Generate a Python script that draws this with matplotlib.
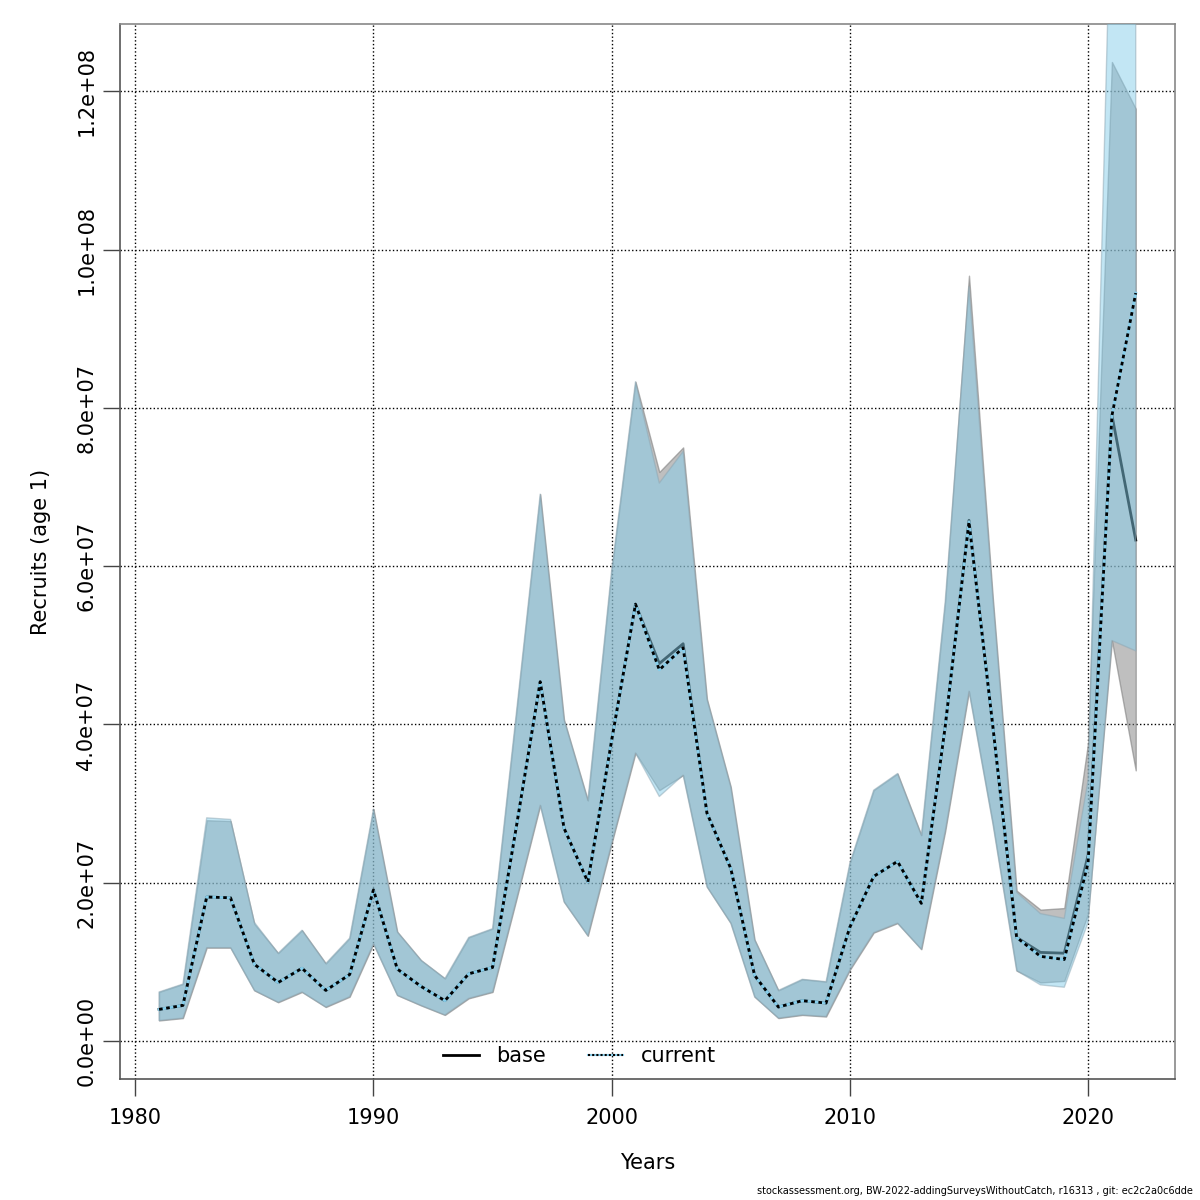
import numpy as np
import matplotlib
matplotlib.use("Agg")
import matplotlib.pyplot as plt
from matplotlib.lines import Line2D
from matplotlib.legend_handler import HandlerTuple
from matplotlib.ticker import FuncFormatter

# values, in units of 1e7 recruits
years = np.arange(1981, 2023)

cur_mean = [0.40, 0.45, 1.82, 1.81, 0.97, 0.74, 0.92, 0.64, 0.84, 1.91,
            0.91, 0.69, 0.51, 0.85, 0.93, 2.71, 4.54, 2.69, 2.01, 3.80,
            5.52, 4.69, 4.97, 2.88, 2.18, 0.83, 0.43, 0.51, 0.48, 1.44,
            2.08, 2.27, 1.74, 3.97, 6.56, 3.98, 1.31, 1.07, 1.03, 2.25,
            7.90, 9.45]
cur_upper = [0.62, 0.72, 2.82, 2.80, 1.50, 1.11, 1.40, 0.98, 1.30, 2.93,
             1.38, 1.02, 0.79, 1.31, 1.42, 4.15, 6.91, 4.06, 3.04, 5.95,
             8.33, 7.05, 7.45, 4.32, 3.21, 1.28, 0.64, 0.78, 0.75, 2.25,
             3.17, 3.38, 2.60, 5.55, 9.53, 5.60, 1.88, 1.61, 1.55, 3.30,
             15.0, 16.0]
cur_lower = [0.26, 0.29, 1.18, 1.18, 0.64, 0.49, 0.62, 0.43, 0.56, 1.23,
             0.58, 0.45, 0.33, 0.54, 0.62, 1.79, 2.98, 1.76, 1.33, 2.50,
             3.64, 3.09, 3.36, 1.95, 1.49, 0.56, 0.29, 0.33, 0.31, 0.90,
             1.37, 1.49, 1.16, 2.65, 4.42, 2.75, 0.89, 0.71, 0.68, 1.50,
             5.06, 4.93]

base_mean = [0.40, 0.45, 1.82, 1.81, 0.97, 0.74, 0.92, 0.64, 0.84, 1.91,
             0.91, 0.69, 0.51, 0.85, 0.93, 2.71, 4.54, 2.69, 2.01, 3.80,
             5.52, 4.77, 5.02, 2.88, 2.18, 0.83, 0.43, 0.51, 0.48, 1.44,
             2.08, 2.27, 1.74, 3.97, 6.58, 3.98, 1.31, 1.12, 1.11, 2.35,
             7.91, 6.33]
base_upper = [0.62, 0.72, 2.79, 2.78, 1.48, 1.11, 1.40, 0.98, 1.30, 2.93,
              1.38, 1.02, 0.79, 1.31, 1.42, 4.15, 6.91, 4.06, 3.04, 5.95,
              8.33, 7.19, 7.50, 4.32, 3.21, 1.28, 0.64, 0.78, 0.75, 2.25,
              3.17, 3.38, 2.60, 5.55, 9.67, 5.60, 1.90, 1.66, 1.68, 3.77,
              12.37, 11.78]
base_lower = [0.26, 0.29, 1.18, 1.18, 0.64, 0.49, 0.62, 0.43, 0.56, 1.23,
              0.58, 0.45, 0.33, 0.54, 0.62, 1.79, 2.98, 1.76, 1.33, 2.50,
              3.64, 3.17, 3.36, 1.95, 1.49, 0.56, 0.29, 0.33, 0.31, 0.90,
              1.37, 1.49, 1.16, 2.65, 4.42, 2.75, 0.89, 0.74, 0.76, 1.61,
              5.06, 3.42]

scale = 1e7
cur_mean, cur_upper, cur_lower = [np.array(a) * scale for a in (cur_mean, cur_upper, cur_lower)]
base_mean, base_upper, base_lower = [np.array(a) * scale for a in (base_mean, base_upper, base_lower)]

skyblue = (135/255, 206/255, 235/255)
dots = (0, (1.3, 1.3))

fig = plt.figure(figsize=(12, 12), dpi=100)
ax = fig.add_axes([0.1, 0.1008, 0.879, 0.8792])

# grid first, so it sits below everything
ax.set_axisbelow(True)
ax.grid(True, linestyle=":", color="black", linewidth=1)

ax.fill_between(years, base_lower, base_upper, facecolor=(0.5, 0.5, 0.5, 0.5),
                edgecolor=(0.5, 0.5, 0.5, 0.6), linewidth=1, zorder=2)
ax.plot(years, base_mean, color="black", linewidth=2, zorder=3)
ax.fill_between(years, cur_lower, cur_upper, facecolor=skyblue + (0.5,),
                edgecolor=(0.55, 0.65, 0.7, 0.5), linewidth=1, zorder=4)
ax.plot(years, cur_mean, color=skyblue, linewidth=2, zorder=5)
ax.plot(years, cur_mean, color="black", linewidth=2, linestyle=dots, zorder=6)

ax.set_xlim(1979.36, 2023.64)
ax.set_ylim(-4.8e6, 1.285e8)
ax.set_xticks([1980, 1990, 2000, 2010, 2020])
ax.set_yticks(np.arange(0, 1.3e8, 2e7))
ax.yaxis.set_major_formatter(FuncFormatter(lambda v, p: f"{v:.1e}"))
ax.tick_params(axis="both", direction="out", length=12, width=1, color="#444444",
               labelsize=15)
ax.tick_params(axis="x", pad=9)
ax.tick_params(axis="y", pad=5)
for lab in ax.get_yticklabels():
    lab.set_rotation(90)
    lab.set_va("center")

for s in ax.spines.values():
    s.set_color("#888888")
    s.set_linewidth(1.2)
ax.spines["left"].set_color("#555555")
ax.spines["bottom"].set_color("#555555")

ax.set_xlabel("Years", fontsize=15, labelpad=18)
ax.set_ylabel("Recruits (age 1)", fontsize=15, labelpad=18)

h_base = Line2D([], [], color="black", linewidth=2)
h_cur = (Line2D([], [], color=skyblue, linewidth=1.5),
         Line2D([], [], color="black", linewidth=1.5, linestyle=(0, (1, 1))))
ax.legend([h_base, h_cur], ["base", "current"], ncol=2, frameon=False,
          loc="center", bbox_to_anchor=(0.436, 0.0218), fontsize=15,
          handlelength=1.7, handletextpad=0.85, columnspacing=2.0,
          handler_map={tuple: HandlerTuple(ndivide=1)})

fig.text(0.994, 0.003, "stockassessment.org, BW-2022-addingSurveysWithoutCatch, r16313 , git: ec2c2a0c6dde",
         ha="right", va="bottom", fontsize=7)

fig.savefig("out.png", dpi=100)
